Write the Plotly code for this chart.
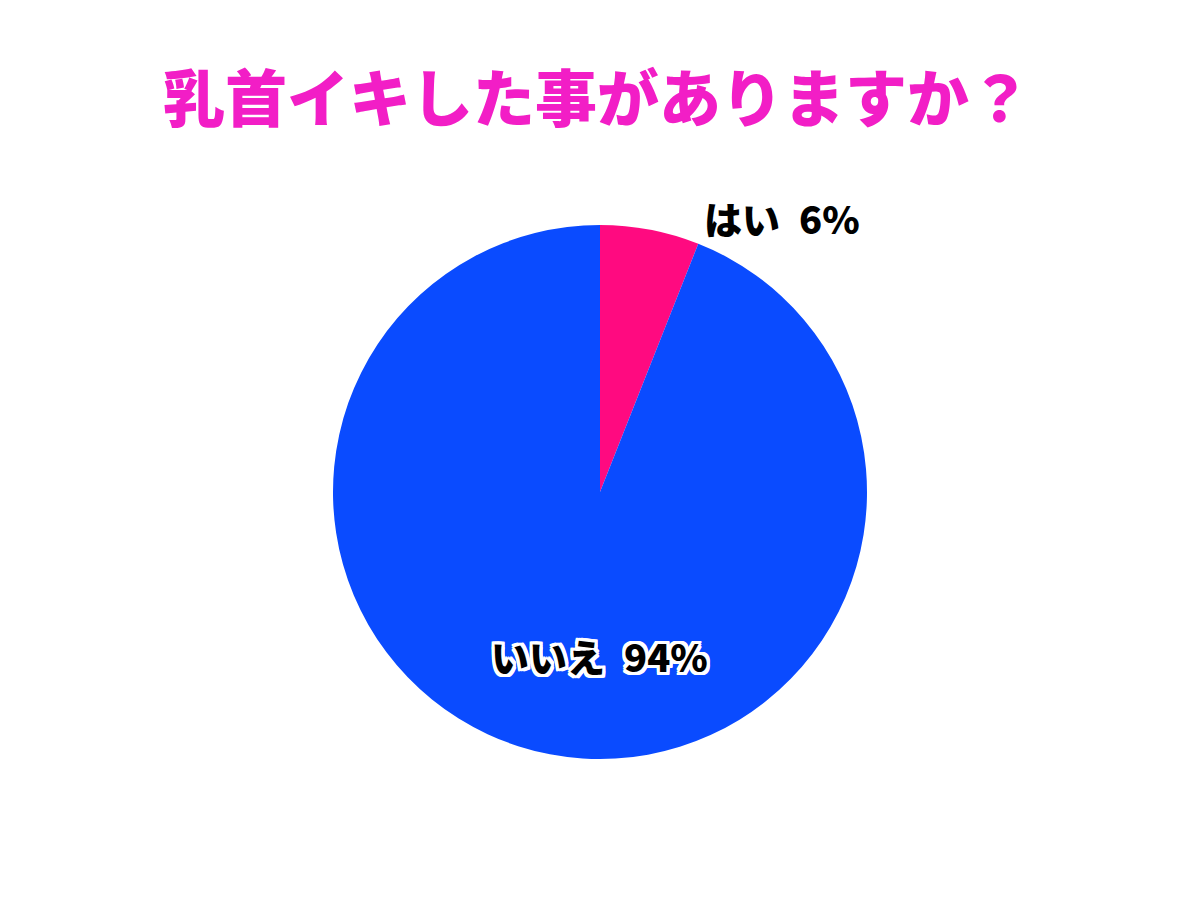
import plotly.graph_objects as go

labels = ["はい", "いいえ"]
values = [6, 94]
colors = ["#ff0a80", "#0a4bff"]
title_text = "乳首イキした事がありますか？"

W, H = 1200, 900
OFF = 8  # browser body margin


def px2paper(x, y):
    return (x - OFF) / W, 1 - (y - OFF) / H


# label anchor positions (pixels in final picture)
label_pos_px = [(782, 217), (599, 655)]
label_outline = [False, True]

cx, cy, r = 600, 492, 267
x0, y1 = px2paper(cx - r, cy - r)
x1, y0 = px2paper(cx + r, cy + r)

fig = go.Figure(go.Pie(
    labels=labels,
    values=values,
    sort=False,
    direction="clockwise",
    rotation=0,
    marker=dict(colors=colors, line=dict(width=0)),
    textinfo="none",
    hoverinfo="label+percent",
    showlegend=False,
    domain=dict(x=[x0, x1], y=[y0, y1]),
))

total = sum(values)
ann = []
sh = []
for dx in (-3, -2, 0, 2, 3):
    for dy in (-3, -2, 0, 2, 3):
        if dx or dy:
            sh.append(f"{dx}px {dy}px 0 #fff")
shadow = ", ".join(sh)
for lab, val, (lx, ly), outl in zip(labels, values, label_pos_px, label_outline):
    pct = round(val / total * 100)
    f = dict(family="Noto Sans CJK JP", size=38, color="#000000", weight=900)
    if outl:
        f["shadow"] = shadow
    px_, py_ = px2paper(lx, ly)
    ann.append(dict(text=f"{lab}\u2002{pct}%", x=px_, y=py_, xref="paper", yref="paper",
                    xanchor="center", yanchor="middle", showarrow=False, font=f))

tx, ty = px2paper(597, 95)
ann.append(dict(text=title_text, x=tx, y=ty, xref="paper", yref="paper",
                xanchor="center", yanchor="middle", showarrow=False,
                font=dict(family="Noto Sans CJK JP", size=62, color="#f21ec6", weight=900)))

fig.update_layout(
    width=W, height=H,
    margin=dict(l=0, r=0, t=0, b=0),
    paper_bgcolor="#ffffff",
    plot_bgcolor="#ffffff",
    annotations=ann,
)

fig.write_html("out.html")
